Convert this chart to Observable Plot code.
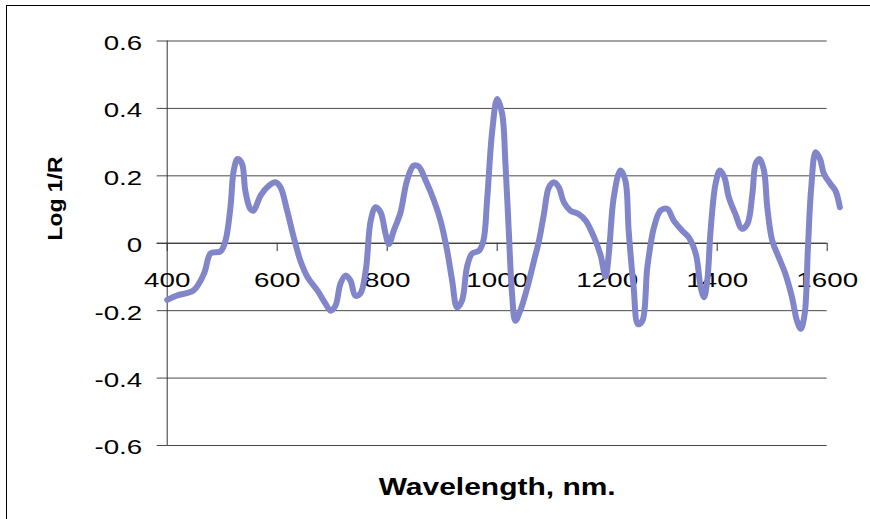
<!DOCTYPE html>
<html><head><meta charset="utf-8">
<script src="https://cdn.jsdelivr.net/npm/d3@7"></script>
<script src="https://cdn.jsdelivr.net/npm/@observablehq/plot@0.6"></script>
<style>
html,body{margin:0;padding:0;background:#fff;overflow:hidden;width:870px;height:519px}
#chart{position:absolute;left:0;top:0}
#frame{position:absolute;left:6px;top:5px;width:900px;height:600px;border:1.5px solid #000;background:transparent;z-index:2;pointer-events:none}
</style></head>
<body><div id="chart"></div><div id="frame"></div>
<script>
const wavelength = [400,418,448,467,479,497,506,515,521,528,536,542,551,557,570,585,597,606,618,630,642,655,673,688,697,706,715,724,733,742,751,761,770,779,788,797,803,812,824,836,848,857,870,885,897,909,918,927,936,945,954,967,975,982,991,1000,1009,1015,1021,1027,1033,1042,1055,1067,1076,1085,1094,1103,1112,1121,1133,1148,1161,1176,1188,1197,1203,1212,1224,1233,1239,1248,1256,1264,1273,1285,1297,1309,1321,1336,1348,1361,1370,1376,1382,1388,1397,1405,1413,1421,1433,1445,1455,1464,1470,1477,1485,1491,1500,1512,1524,1536,1545,1552,1559,1565,1571,1579,1587,1594,1606,1615,1623];
const log1r = [-0.168,-0.155,-0.14,-0.09,-0.03,-0.024,0.008,0.107,0.216,0.25,0.236,0.156,0.102,0.097,0.142,0.171,0.181,0.166,0.097,0.018,-0.051,-0.10,-0.14,-0.18,-0.2,-0.185,-0.12,-0.096,-0.11,-0.155,-0.15,-0.081,0.067,0.107,0.092,0.028,-0.002,0.038,0.09,0.186,0.23,0.228,0.186,0.127,0.067,-0.022,-0.11,-0.19,-0.17,-0.071,-0.031,-0.022,0.008,0.137,0.334,0.428,0.384,0.236,0.038,-0.15,-0.23,-0.2,-0.13,-0.051,0.008,0.087,0.166,0.181,0.166,0.122,0.097,0.087,0.067,0.018,-0.035,-0.1,-0.03,0.137,0.216,0.186,0.038,-0.13,-0.24,-0.23,-0.071,0.047,0.097,0.102,0.067,0.038,0.018,-0.031,-0.13,-0.16,-0.11,0.038,0.176,0.216,0.196,0.137,0.087,0.043,0.058,0.147,0.236,0.25,0.216,0.107,0.008,-0.042,-0.091,-0.16,-0.23,-0.254,-0.21,-0.012,0.166,0.27,0.25,0.206,0.176,0.156,0.107];
const xTicks = [400,600,800,1000,1200,1400,1600];
const xTickLabels = ["400","600","800","1000","1200","1400","1600"];
const yTicks = [-0.6,-0.4,-0.2,0,0.2,0.4,0.6];
const yTickLabels = ["-0.6","-0.4","-0.2","0","0.2","0.4","0.6"];
const xTitle = "Wavelength, nm.";
const yTitle = "Log 1/R";

const data = wavelength.map((w, i) => ({w, v: log1r[i]}));

const svg = Plot.plot({
  width: 870, height: 519,
  marginLeft: 166.7, marginRight: 43.3, marginTop: 40.5, marginBottom: 74,
  style: {background: "#fff", color: "#000", fontFamily: "'Liberation Sans', Arial, sans-serif"},
  x: {domain: [400, 1600], axis: null},
  y: {domain: [-0.6, 0.6], axis: null},
  marks: [
    Plot.ruleY(yTicks, {y: d => d, stroke: "#4a4a4a", strokeWidth: 1, insetLeft: -10}),
    Plot.ruleX([400], {stroke: "#333", strokeWidth: 1}),
    Plot.ruleY([0], {stroke: "#333", strokeWidth: 1, insetLeft: -10}),
    Plot.vector(xTicks, {x: d => d, y: 0, length: 7, rotate: 180, anchor: "start", r: 0, stroke: "#333", strokeWidth: 1}),
    Plot.text(xTicks, {x: d => d, y: 0, dy: 37.3, text: (d, i) => xTickLabels[i], fontSize: 21, fill: "#000", lineAnchor: "middle", textAnchor: "middle"}),
    Plot.text(yTicks, {y: d => d, frameAnchor: "left", dx: -25, dy: 2.2, text: (d, i) => yTickLabels[i], fontSize: 21, fill: "#000", textAnchor: "end", lineAnchor: "middle"}),
    Plot.line(data, {x: "w", y: "v", stroke: "#7a7fc6", strokeWidth: 6, curve: "catmull-rom"}),
    Plot.text([xTitle], {frameAnchor: "bottom", dy: 42.6, text: d => d, fontSize: 23, fontWeight: "bold", fill: "#000", lineAnchor: "middle"}),
    Plot.text([yTitle], {frameAnchor: "left", dx: -112, dy: -2.7, rotate: -90, text: d => d, fontSize: 20, fontWeight: "bold", fill: "#000", lineAnchor: "middle"})
  ]
});
document.getElementById("chart").appendChild(svg);

// checkered pattern for the thick line, as in the original
const ns = "http://www.w3.org/2000/svg";
const defs = document.createElementNS(ns, "defs");
defs.innerHTML = '<pattern id="chk" width="2" height="2" patternUnits="userSpaceOnUse"><rect width="2" height="2" fill="#c6c9ec"/><rect width="1" height="1" fill="#3b41a5"/><rect x="1" y="1" width="1" height="1" fill="#3b41a5"/></pattern>';
svg.insertBefore(defs, svg.firstChild);
svg.querySelectorAll('g[aria-label="line"]').forEach(g => {
  g.setAttribute("stroke", "url(#chk)");
  g.querySelectorAll("path").forEach(p => p.removeAttribute("stroke"));
});

// horizontally stretched text, like the original
svg.querySelectorAll("text").forEach(t => {
  const s = t.textContent;
  const n = t.getComputedTextLength();
  let target = n * 1.32;
  if (s === xTitle) target = 237;
  if (s === yTitle) target = 84;
  t.setAttribute("textLength", target.toFixed(1));
  t.setAttribute("lengthAdjust", "spacingAndGlyphs");
});
</script>
</body></html>
